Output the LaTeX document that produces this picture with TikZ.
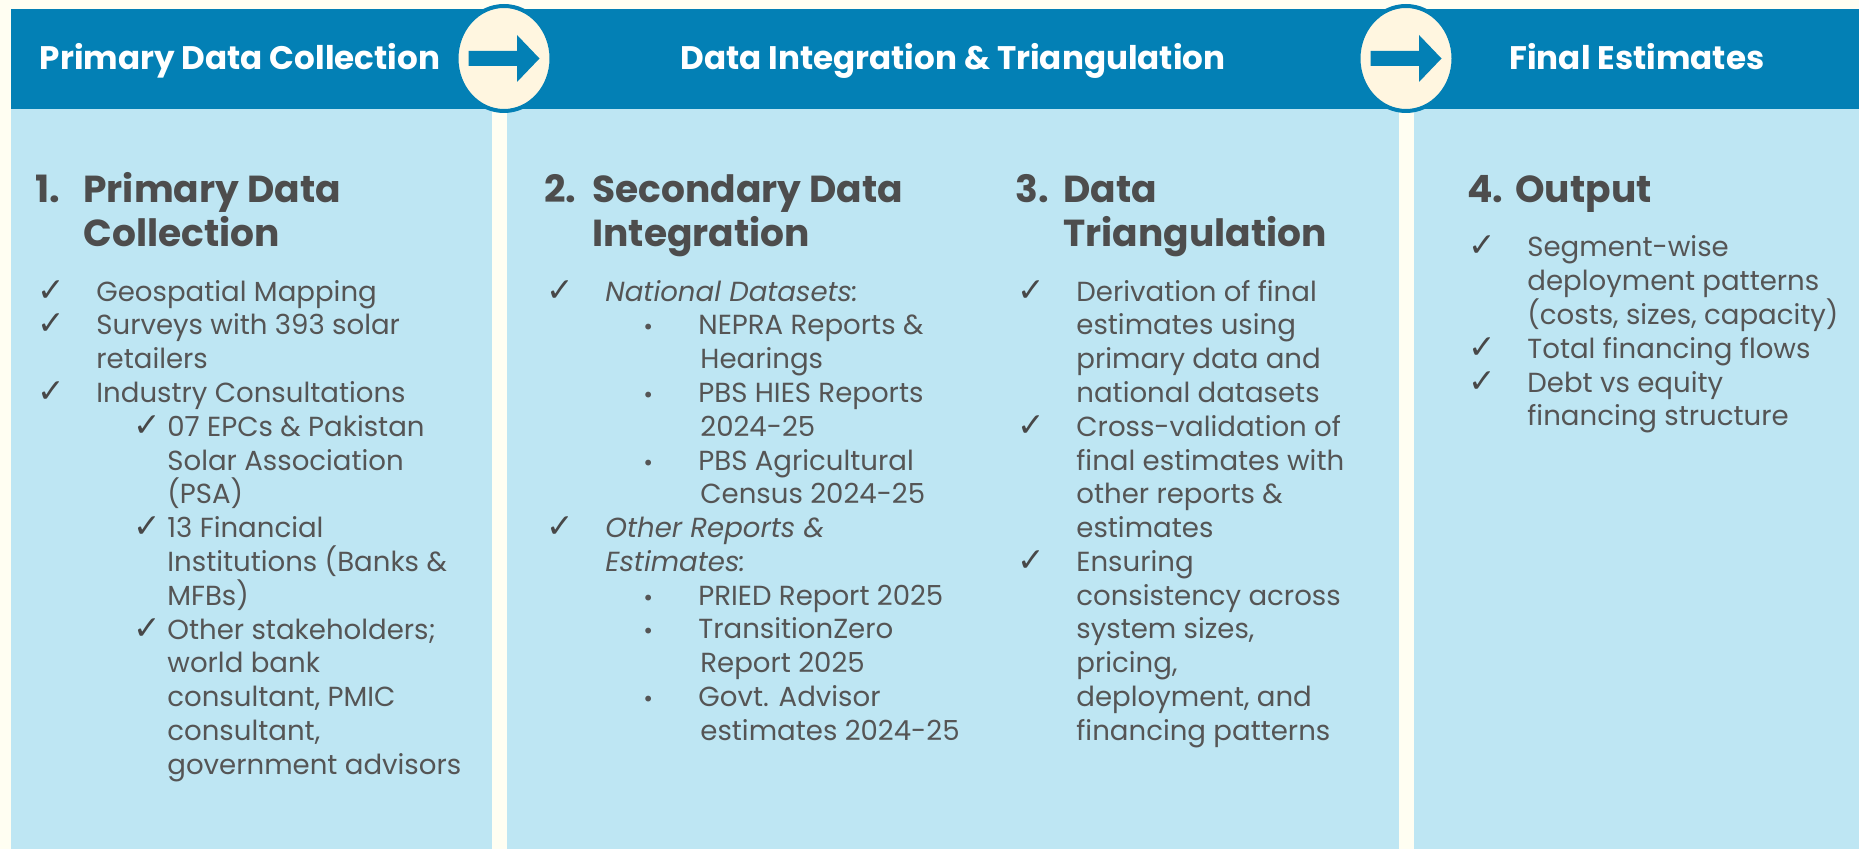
\documentclass[tikz,border=0pt]{standalone}
\usepackage{fontspec}
\setmainfont{Poppins}
\newfontfamily\symfont{DejaVu Sans}
\usetikzlibrary{shapes.geometric,positioning}

\definecolor{cream}{HTML}{FFFEF2}
\definecolor{barblue}{HTML}{0380B5}
\definecolor{panelblue}{HTML}{BEE6F3}
\definecolor{discfill}{HTML}{FFF6E0}
\definecolor{txtgray}{HTML}{555555}
\definecolor{headgray}{HTML}{4D4D4D}
\definecolor{tickgray}{HTML}{484848}

% list marks: tick, indented tick, bullet, and plain indent
\newcommand\chk{\makebox[29.5pt][l]{\color{tickgray}\symfont\fontsize{16.5}{16.5}\selectfont ✓}}
\newcommand\subchk{\hspace*{48pt}\makebox[17pt][l]{\color{tickgray}\symfont\fontsize{16.5}{16.5}\selectfont ✓}}
\newcommand\blt{\hspace*{48pt}\makebox[28pt][l]{\symfont\fontsize{10}{10}\selectfont •}}
\newcommand\indentby[1]{\hspace*{#1}}

% multi-line nodes sit on the baseline of their last line
\tikzset{
  bartitle/.style={anchor=base,text=white,font=\bfseries\fontsize{16.3}{19}\selectfont},
  stepdisc/.style={ellipse,draw=barblue,fill=discfill,line width=2pt,
    minimum width=47.5pt,minimum height=52.5pt,inner sep=0pt},
  colhead/.style={anchor=base west,align=left,inner sep=0pt,text=headgray,
    font=\bfseries\fontsize{18.8}{22}\selectfont},
  colbody/.style={anchor=base west,align=left,inner sep=0pt,text=txtgray,
    font=\fontsize{13.8}{16.9}\selectfont},
}

\begin{document}
\begin{tikzpicture}[x=0.5pt,y=-0.5pt]
% page, header bar and column panels
\fill[cream] (0,0) rectangle (1859,849);
\useasboundingbox (0,0) rectangle (1859,849);
\fill[barblue] (10.7,9.5) rectangle (1859,109);
\foreach \xa/\xb in {10.7/492,507/1399,1414/1859}
  \fill[panelblue] (\xa,109) rectangle (\xb,849);

% stage titles in the bar
\node[bartitle] (t1) at (240,70) {Primary Data Collection};
\node[bartitle] (t2) at (953,70) {Data Integration \& Triangulation};
\node[bartitle] (t3) at (1637,70) {Final Estimates};

% discs with arrows between the stages
\foreach \cx/\nm in {504/d1,1406/d2}{
  \node[stepdisc] (\nm) at (\cx,58.5) {};
  \fill[barblue,shift={(\nm.center)}] (-35.5,-7.5) -- (13,-7.5) -- (13,-23.5)
    -- (35.5,0) -- (13,23.5) -- (13,7.5) -- (-35.5,7.5) -- cycle;
}

% column 1
\node[colhead] (h1) at (35,247) {\makebox[24pt][l]{1.}Primary Data\\\indentby{24pt}Collection};
\node[colbody] (l1) at (37,774.2) {\chk Geospatial Mapping\\
  \chk Surveys with 393 solar\\
  \indentby{29.5pt}retailers\\
  \chk Industry Consultations\\
  \subchk 07 EPCs \& Pakistan\\
  \indentby{65pt}Solar Association\\
  \indentby{65pt}(PSA)\\
  \subchk 13 Financial\\
  \indentby{65pt}Institutions (Banks \&\\
  \indentby{65pt}MFBs)\\
  \subchk Other stakeholders;\\
  \indentby{65pt}world bank\\
  \indentby{65pt}consultant, PMIC\\
  \indentby{65pt}consultant,\\
  \indentby{65pt}government advisors};

% column 2
\node[colhead] (h2) at (544,247) {\makebox[24pt][l]{2.}Secondary Data\\\indentby{24pt}Integration};
\node[colbody] (l2) at (546,740.4) {\chk\textit{National Datasets:}\\
  \blt NEPRA Reports \&\\
  \indentby{77pt}Hearings\\
  \blt PBS HIES Reports\\
  \indentby{77pt}2024-25\\
  \blt PBS Agricultural\\
  \indentby{77pt}Census 2024-25\\
  \chk\textit{Other Reports \&}\\
  \indentby{29.5pt}\textit{Estimates:}\\
  \blt PRIED Report 2025\\
  \blt TransitionZero\\
  \indentby{77pt}Report 2025\\
  \blt Govt. Advisor\\
  \indentby{77pt}estimates 2024-25};

% column 3
\node[colhead] (h3) at (1015,247) {\makebox[24pt][l]{3.}Data\\\indentby{24pt}Triangulation};
\node[colbody] (l3) at (1017,740.4) {\chk Derivation of final\\
  \indentby{29.5pt}estimates using\\
  \indentby{29.5pt}primary data and\\
  \indentby{29.5pt}national datasets\\
  \chk Cross-validation of\\
  \indentby{29.5pt}final estimates with\\
  \indentby{29.5pt}other reports \&\\
  \indentby{29.5pt}estimates\\
  \chk Ensuring\\
  \indentby{29.5pt}consistency across\\
  \indentby{29.5pt}system sizes,\\
  \indentby{29.5pt}pricing,\\
  \indentby{29.5pt}deployment, and\\
  \indentby{29.5pt}financing patterns};

% column 4
\node[colhead] (h4) at (1467,203) {\makebox[24pt][l]{4.}Output};
\node[colbody] (l4) at (1468,426) {\chk Segment-wise\\
  \indentby{29.5pt}deployment patterns\\
  \indentby{29.5pt}(costs, sizes, capacity)\\
  \chk Total financing flows\\
  \chk Debt vs equity\\
  \indentby{29.5pt}financing structure};
\end{tikzpicture}
\end{document}
